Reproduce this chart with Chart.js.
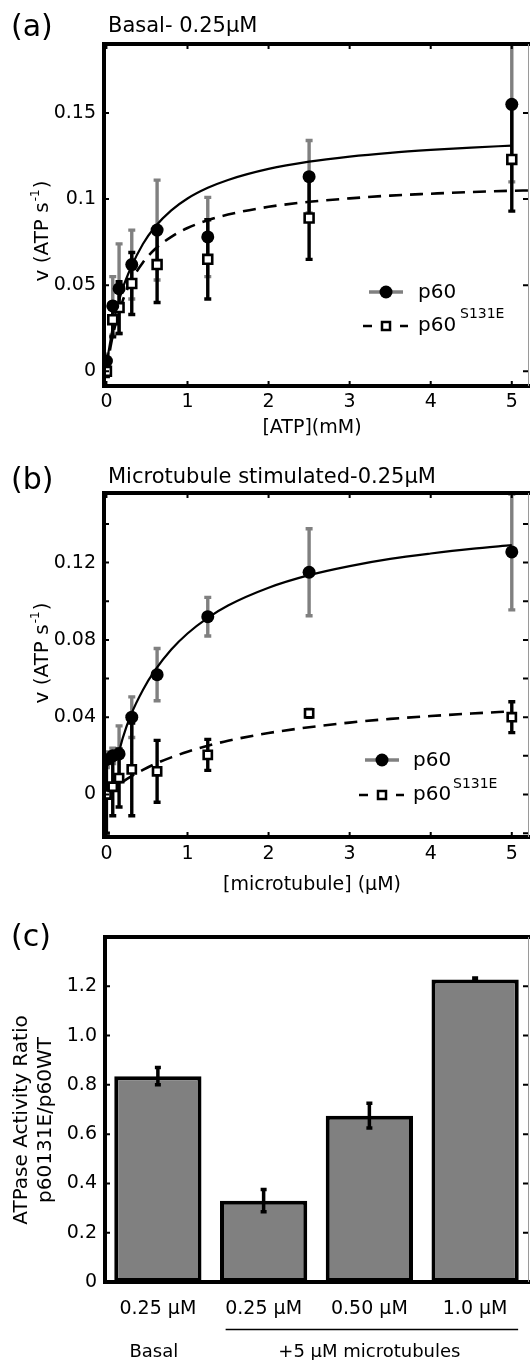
<!DOCTYPE html>
<html>
<head>
<meta charset="utf-8">
<script src="https://cdn.jsdelivr.net/npm/chart.js@4.4.1/dist/chart.umd.min.js"></script>
<style>
  html, body { margin:0; padding:0; background:#fff; }
  body { width:530px; height:1360px; position:relative; overflow:hidden; }
  .panel { position:absolute; left:0; width:530px; }
  .panel canvas { display:block; }
</style>
</head>
<body>
<div class="panel" style="top:0px;height:450px;"><canvas id="chartA"></canvas></div>
<div class="panel" style="top:450px;height:450px;"><canvas id="chartB"></canvas></div>
<div class="panel" style="top:900px;height:460px;"><canvas id="chartC"></canvas></div>
<script>
// ================= DATA =================
// substrate / microtubule concentrations (x values of measured points)
const concentrations = [0, 0.078, 0.156, 0.3125, 0.625, 1.25, 2.5, 5];

// (a) Basal - 0.25 uM
const basalP60      = [0.006, 0.038, 0.048, 0.062, 0.082, 0.078, 0.113, 0.155];
const basalP60Err   = [0.004, 0.017, 0.026, 0.020, 0.029, 0.023, 0.021, 0.045];
const basalS131E    = [0.000, 0.030, 0.037, 0.051, 0.062, 0.065, 0.089, 0.123];
const basalS131EErr = [0.003, 0.010, 0.015, 0.018, 0.022, 0.023, 0.024, 0.030];

// fitted curves
const basalP60FitX   = [0, 0.05, 0.1, 0.2, 0.3, 0.45, 0.6, 0.8, 1, 1.25, 1.5, 2, 2.5, 3, 3.5, 4, 4.5, 5];
const basalP60Fit    = [0.004, 0.018, 0.031, 0.048, 0.060, 0.0739, 0.0839, 0.0934, 0.1003, 0.1065, 0.1111, 0.1175, 0.1217, 0.1246, 0.1268, 0.1285, 0.1299, 0.1310];
const basalS131EFitX = [0, 0.05, 0.1, 0.2, 0.3, 0.45, 0.6, 0.8, 1, 1.25, 1.5, 2, 2.5, 3, 3.5, 4, 4.5, 5, 5.2];
const basalS131EFit  = [0, 0.0141, 0.0250, 0.0409, 0.0519, 0.0632, 0.0710, 0.0781, 0.0832, 0.0877, 0.0910, 0.0955, 0.0984, 0.1004, 0.1020, 0.1031, 0.1041, 0.1048, 0.1050];

// (b) Microtubule stimulated - 0.25 uM
const mtP60      = [0.018, 0.020, 0.021, 0.040, 0.062, 0.092, 0.115, 0.1255];
const mtP60Err   = [0.004, 0.004, 0.0145, 0.0105, 0.0135, 0.010, 0.0225, 0.030];
const mtS131E    = [0.000, 0.004, 0.0085, 0.013, 0.012, 0.0205, 0.042, 0.040];
const mtS131EErr = [0.020, 0.015, 0.015, 0.024, 0.016, 0.008, 0.002, 0.008];

const mtP60FitX   = [0.15, 0.2, 0.3, 0.45, 0.6, 0.8, 1, 1.25, 1.5, 2, 2.5, 3, 3.5, 4, 4.5, 5];
const mtP60Fit    = [0.021, 0.029, 0.041, 0.0541, 0.0643, 0.0750, 0.0833, 0.0914, 0.0978, 0.1070, 0.1135, 0.1182, 0.1219, 0.1247, 0.1271, 0.1290];
const mtS131EFitX = [0, 0.05, 0.1, 0.2, 0.3, 0.45, 0.6, 0.8, 1, 1.25, 1.5, 2, 2.5, 3, 3.5, 4, 4.5, 5];
const mtS131EFit  = [0, 0.0018, 0.0034, 0.0065, 0.0092, 0.0127, 0.0158, 0.0192, 0.0221, 0.0252, 0.0278, 0.0318, 0.0348, 0.0372, 0.0391, 0.0406, 0.0419, 0.0430];

// tick values
const xTickValues   = [0, 1, 2, 3, 4, 5];
const basalYTicks   = [0, 0.05, 0.1, 0.15];
const mtYTicks      = [0, 0.04, 0.08, 0.12];
const mtYMinorTicks = [-0.02, 0.02, 0.06, 0.10, 0.14];

// (c) ratio bars
const ratioLabels = ['0.25 \u00b5M', '0.25 \u00b5M', '0.50 \u00b5M', '1.0 \u00b5M'];
const ratioValues = [0.835, 0.330, 0.675, 1.228];
const ratioErr    = [0.035, 0.045, 0.050, 0.006];
const ratioYTicks = [0, 0.2, 0.4, 0.6, 0.8, 1.0, 1.2];
const groupBasal  = 'Basal';
const groupMT     = '+5 \u00b5M microtubules';

// ================= STYLE HELPERS =================
const FONT = "'DejaVu Sans', 'Liberation Sans', sans-serif";
const GRAY = '#808080';

function pts(xs, ys) { return xs.map((x, i) => ({ x: x, y: ys[i] })); }

function text(ctx, s, x, y, size, align) {
  ctx.font = size + 'px ' + FONT;
  ctx.fillStyle = '#000';
  ctx.textAlign = align || 'left';
  ctx.textBaseline = 'alphabetic';
  ctx.fillText(s, x, y);
}

function yTitleSup(ctx, baseX, centerY, main, sup, tail, size) {
  ctx.save();
  ctx.translate(baseX, centerY);
  ctx.rotate(-Math.PI / 2);
  ctx.font = size + 'px ' + FONT;
  const w1 = ctx.measureText(main).width;
  const w3 = ctx.measureText(tail).width;
  const supSize = Math.round(size * 0.62);
  ctx.font = supSize + 'px ' + FONT;
  const w2 = ctx.measureText(sup).width;
  let x = -(w1 + w2 + w3) / 2;
  ctx.fillStyle = '#000'; ctx.textAlign = 'left'; ctx.textBaseline = 'alphabetic';
  ctx.font = size + 'px ' + FONT; ctx.fillText(main, x, 0);
  ctx.font = supSize + 'px ' + FONT; ctx.fillText(sup, x + w1 + 1, -size * 0.45);
  ctx.font = size + 'px ' + FONT; ctx.fillText(tail, x + w1 + w2 + 2, 0);
  ctx.restore();
}

function drawFrame(chart, o) {
  const ctx = chart.ctx, a = chart.chartArea;
  const xs = chart.scales.x, ys = chart.scales.y;
  ctx.save();
  ctx.strokeStyle = '#000';
  ctx.lineWidth = 2;
  const tl = 5;
  ctx.beginPath();
  (o.xTicks || []).forEach(v => {
    const x = xs.getPixelForValue(v);
    ctx.moveTo(x, a.bottom); ctx.lineTo(x, a.bottom - tl);
    ctx.moveTo(x, a.top); ctx.lineTo(x, a.top + tl);
  });
  (o.yTicks || []).concat(o.yMinor || []).forEach(v => {
    const y = ys.getPixelForValue(v);
    ctx.moveTo(a.left, y); ctx.lineTo(a.left + tl, y);
    ctx.moveTo(a.right, y); ctx.lineTo(a.right - tl, y);
  });
  ctx.stroke();
  // main frame (top, left, bottom)
  ctx.lineWidth = 4;
  ctx.lineJoin = 'miter';
  ctx.beginPath();
  ctx.moveTo(chart.width, a.top);
  ctx.lineTo(a.left, a.top);
  ctx.lineTo(a.left, a.bottom);
  ctx.lineTo(chart.width, a.bottom);
  ctx.stroke();
  // right edge (cropped in the original figure)
  ctx.strokeStyle = '#9a9a9a';
  ctx.lineWidth = 1;
  ctx.beginPath();
  ctx.moveTo(a.right + 0.5, a.top);
  ctx.lineTo(a.right + 0.5, a.bottom);
  ctx.stroke();
  ctx.restore();
}

function drawErrorBars(chart, sets, clip) {
  const ctx = chart.ctx, a = chart.chartArea;
  const xs = chart.scales.x, ys = chart.scales.y;
  ctx.save();
  if (clip) { ctx.beginPath(); ctx.rect(a.left, a.top, a.right - a.left, a.bottom - a.top); ctx.clip(); }
  sets.forEach(s => {
    ctx.strokeStyle = s.color;
    ctx.lineWidth = s.width;
    ctx.beginPath();
    s.x.forEach((xv, i) => {
      const px = xs.getPixelForValue(xv);
      const hi = ys.getPixelForValue(s.y[i] + s.err[i]);
      const lo = ys.getPixelForValue(s.y[i] - s.err[i]);
      ctx.moveTo(px, hi); ctx.lineTo(px, lo);
      ctx.moveTo(px - s.cap, hi); ctx.lineTo(px + s.cap, hi);
      ctx.moveTo(px - s.cap, lo); ctx.lineTo(px + s.cap, lo);
    });
    ctx.stroke();
  });
  ctx.restore();
}

function drawLegend(ctx, L) {
  ctx.save();
  // p60 row
  ctx.strokeStyle = GRAY; ctx.lineWidth = 3.5;
  ctx.beginPath(); ctx.moveTo(L.mx - 17, L.y1); ctx.lineTo(L.mx + 17, L.y1); ctx.stroke();
  ctx.fillStyle = '#000';
  ctx.beginPath(); ctx.arc(L.mx, L.y1, 6.5, 0, Math.PI * 2); ctx.fill();
  // S131E row
  ctx.strokeStyle = '#000'; ctx.lineWidth = 2.5;
  ctx.beginPath();
  ctx.moveTo(L.mx - 23, L.y2); ctx.lineTo(L.mx - 14, L.y2);
  ctx.moveTo(L.mx + 14, L.y2); ctx.lineTo(L.mx + 22, L.y2);
  ctx.stroke();
  ctx.fillStyle = '#fff'; ctx.lineWidth = 2.5;
  ctx.beginPath(); ctx.rect(L.mx - 4, L.y2 - 4, 8, 8); ctx.fill(); ctx.stroke();
  ctx.restore();
  text(ctx, 'p60', L.tx, L.y1 + 6, 20);
  text(ctx, 'p60', L.tx, L.y2 + 5, 20);
  text(ctx, 'S131E', L.sx, L.sy, 14);
}

// ================= KINETIC PANELS =================
function kineticChart(id, d) {
  const errSets = [
    { x: concentrations, y: d.p60, err: d.p60Err, color: GRAY, width: 3.4, cap: 3.5 },
    { x: concentrations, y: d.s131, err: d.s131Err, color: '#000', width: 3.4, cap: 3.5 }
  ];
  return new Chart(document.getElementById(id), {
    type: 'scatter',
    data: {
      datasets: [
        { label: 'p60', data: pts(concentrations, d.p60), pointStyle: 'circle', pointRadius: 6.5,
          pointBackgroundColor: '#000', pointBorderColor: '#000', pointBorderWidth: 0, showLine: false },
        { label: 'p60 S131E', data: pts(concentrations, d.s131), pointStyle: 'rect', pointRadius: d.sqR,
          pointBackgroundColor: '#fff', pointBorderColor: '#000', pointBorderWidth: 2.6, showLine: false },
        { label: 'p60 fit', data: pts(d.fitPX, d.fitP), showLine: true, pointRadius: 0, borderColor: '#000',
          borderWidth: 2.2, cubicInterpolationMode: 'monotone', fill: false },
        { label: 'S131E fit', data: pts(d.fitSX, d.fitS), showLine: true, pointRadius: 0, borderColor: '#000',
          borderWidth: 2.6, borderDash: [13, 8], cubicInterpolationMode: 'monotone', fill: false }
      ]
    },
    options: {
      responsive: true, maintainAspectRatio: false, animation: false, devicePixelRatio: 1,
      layout: { padding: { top: d.top, right: 2, left: 0, bottom: 0 }, autoPadding: false },
      plugins: { legend: { display: false }, tooltip: { enabled: false } },
      scales: {
        x: {
          type: 'linear', min: -0.03, max: 5.2,
          grid: { display: false, drawTicks: false }, border: { display: false },
          afterBuildTicks: s => { s.ticks = xTickValues.map(v => ({ value: v })); },
          afterFit: s => { s.height = d.xH; },
          ticks: { font: { family: FONT, size: 19 }, color: '#000', padding: d.xPad, maxRotation: 0, autoSkip: false,
                   callback: v => String(v) }
        },
        y: {
          type: 'linear', min: d.yMin, max: d.yMax,
          grid: { display: false, drawTicks: false }, border: { display: false },
          afterBuildTicks: s => { s.ticks = d.yTicks.map(v => ({ value: v })); },
          afterFit: s => { s.width = 104; },
          ticks: { font: { family: FONT, size: 19 }, color: '#000', padding: 8, autoSkip: false,
                   callback: v => String(v) }
        }
      }
    },
    plugins: [{
      id: 'deco' + id,
      beforeDatasetsDraw(chart) { drawErrorBars(chart, errSets, true); },
      afterDraw(chart) {
        const ctx = chart.ctx;
        drawFrame(chart, { xTicks: xTickValues, yTicks: d.yTicks, yMinor: d.yMinor });
        text(ctx, d.tag, 11, d.tagY, 30);
        text(ctx, d.title, 108, d.titleY, 21);
        text(ctx, d.xTitle, 312, d.xTitleY, 19, 'center');
        yTitleSup(ctx, 48, d.yTitleC, 'v (ATP s', '-1', ')', 20);
        drawLegend(ctx, d.legend);
      }
    }]
  });
}

kineticChart('chartA', {
  p60: basalP60, p60Err: basalP60Err, s131: basalS131E, s131Err: basalS131EErr,
  fitPX: basalP60FitX, fitP: basalP60Fit, fitSX: basalS131EFitX, fitS: basalS131EFit,
  yMin: -0.0085, yMax: 0.19, yTicks: basalYTicks, yMinor: [],
  top: 44, xH: 64, sqR: 6.3, xPad: 5,
  tag: '(a)', tagY: 36, title: 'Basal- 0.25\u00b5M', titleY: 32,
  xTitle: '[ATP](mM)', xTitleY: 433, yTitleC: 232,
  legend: { mx: 386, y1: 292, y2: 326, tx: 418, sx: 460, sy: 318 }
});

kineticChart('chartB', {
  p60: mtP60, p60Err: mtP60Err, s131: mtS131E, s131Err: mtS131EErr,
  fitPX: mtP60FitX, fitP: mtP60Fit, fitSX: mtS131EFitX, fitS: mtS131EFit,
  yMin: -0.022, yMax: 0.156, yTicks: mtYTicks, yMinor: mtYMinorTicks,
  top: 43, xH: 63, sqR: 5.8, xPad: 6,
  tag: '(b)', tagY: 39, title: 'Microtubule stimulated-0.25\u00b5M', titleY: 33,
  xTitle: '[microtubule] (\u00b5M)', xTitleY: 440, yTitleC: 204,
  legend: { mx: 382, y1: 310, y2: 345, tx: 413, sx: 453, sy: 338 }
});

// ================= RATIO BAR PANEL =================
new Chart(document.getElementById('chartC'), {
  type: 'bar',
  data: {
    labels: ratioLabels,
    datasets: [{
      data: ratioValues, backgroundColor: GRAY, borderColor: '#000', borderWidth: 4,
      borderSkipped: false, barPercentage: 0.825, categoryPercentage: 1
    }]
  },
  options: {
    responsive: true, maintainAspectRatio: false, animation: false, devicePixelRatio: 1,
    layout: { padding: { top: 37, right: 2, left: 0, bottom: 0 }, autoPadding: false },
    plugins: { legend: { display: false }, tooltip: { enabled: false } },
    scales: {
      x: {
        type: 'category', grid: { display: false, drawTicks: false }, border: { display: false },
        afterFit: s => { s.height = 78; },
        ticks: { font: { family: FONT, size: 19 }, color: '#000', padding: 16, maxRotation: 0, autoSkip: false }
      },
      y: {
        type: 'linear', min: 0, max: 1.4,
        grid: { display: false, drawTicks: false }, border: { display: false },
        afterBuildTicks: s => { s.ticks = ratioYTicks.map(v => ({ value: v })); },
        afterFit: s => { s.width = 105; },
        ticks: { font: { family: FONT, size: 19 }, color: '#000', padding: 8,
                 callback: v => (v === 0 ? '0' : Number(v).toFixed(1)) }
      }
    }
  },
  plugins: [{
    id: 'decoC',
    afterDatasetsDraw(chart) {
      drawErrorBars(chart, [{ x: [0, 1, 2, 3], y: ratioValues, err: ratioErr, color: '#000', width: 3.5, cap: 3 }], false);
    },
    afterDraw(chart) {
      const ctx = chart.ctx, xs = chart.scales.x;
      drawFrame(chart, { xTicks: [], yTicks: ratioYTicks.slice(1) });
      text(ctx, '(c)', 11, 46, 30);
      // group labels under categories
      const p0 = xs.getPixelForValue(0), p1 = xs.getPixelForValue(1), p3 = xs.getPixelForValue(3);
      ctx.save();
      ctx.strokeStyle = '#000'; ctx.lineWidth = 1.3;
      ctx.beginPath(); ctx.moveTo(p1 - 38, 429.5); ctx.lineTo(p3 + 43, 429.5); ctx.stroke();
      ctx.restore();
      text(ctx, groupBasal, p0 - 4, 457, 18, 'center');
      text(ctx, groupMT, (p1 + p3) / 2, 457, 18, 'center');
      // y title (two lines)
      ctx.save();
      ctx.translate(0, 220);
      ctx.rotate(-Math.PI / 2);
      ctx.font = '20px ' + FONT; ctx.fillStyle = '#000'; ctx.textAlign = 'center'; ctx.textBaseline = 'alphabetic';
      ctx.fillText('ATPase Activity Ratio', 0, 27);
      ctx.fillText('p60131E/p60WT', 0, 51);
      ctx.restore();
    }
  }]
});
</script>
</body>
</html>
